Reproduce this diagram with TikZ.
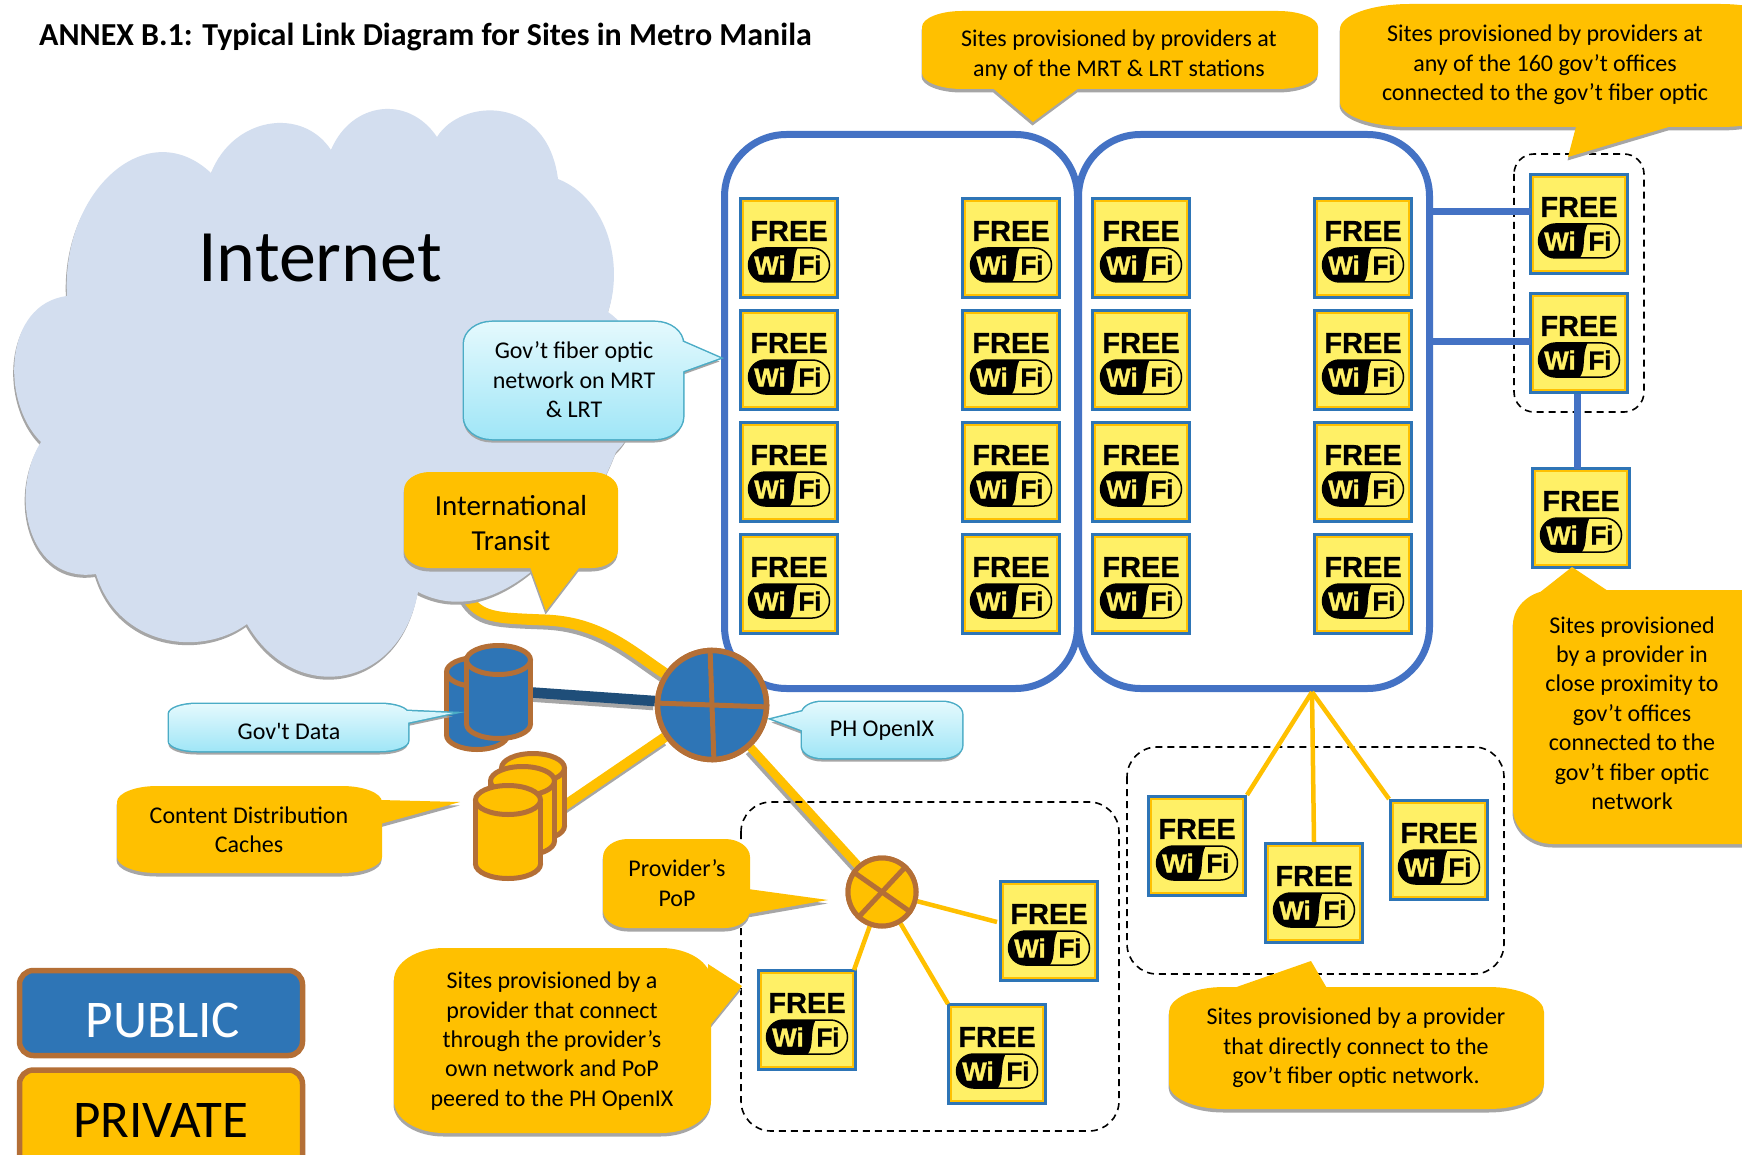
\documentclass[tikz,border=0pt]{standalone}
\usepackage{fontspec}
\setmainfont{Carlito}
\newfontfamily\plainc{Carlito}
\newfontfamily\wifont{Liberation Sans Bold}[FakeBold=0.6]
\newfontfamily\wibold{Liberation Sans Bold}[FakeBold=1.4]
\definecolor{ybg}{HTML}{FFC000}
\definecolor{bbg}{HTML}{2E75B6}
\definecolor{brn}{HTML}{B46F36}
\definecolor{linkb}{HTML}{4472C4}
\definecolor{shcol}{HTML}{A6A6A6}
\definecolor{cloudc}{HTML}{D3DEEF}
\definecolor{wy}{HTML}{FFF066}
\definecolor{dkb}{HTML}{1F4E79}
\definecolor{teal1}{HTML}{4BACC6}
\definecolor{blt}{HTML}{E4F9FD}
\definecolor{blb}{HTML}{A0E6F7}
\tikzset{
  wifibox/.style={draw=bbg,line width=4pt,fill=wy,minimum width=96pt,minimum height=98pt,inner sep=0pt},
  wifiinner/.style={draw=ybg,line width=2pt},
  freetxt/.style={font=\wifont\fontsize{29}{29}\selectfont,inner sep=0pt,text=black},
  pilltxt/.style={font=\wibold\fontsize{26}{26}\selectfont,inner sep=0pt},
  lbl/.style={align=center,inner sep=0pt,text=black,font=\fontsize{24}{29.4}\selectfont},
  biglbl/.style={font=\fontsize{29}{35.5}\selectfont},
  yellowc/.style={fill=ybg},
  bluec/.style={top color=blt,bottom color=blb},
  blueedge/.style={draw=teal1,line width=3pt},
  noedge/.style={},
  shadowc/.style={fill=shcol},
  bluebox/.style={draw=linkb,line width=7pt,rounded corners=62pt},
  dashbox/.style={draw=black,line width=1.6pt,dash pattern=on 7pt off 5pt},
  linkline/.style={draw=linkb,line width=7pt},
  thin yellow/.style={draw=ybg,line width=4.5pt},
  hubnode/.style={circle,draw=brn,fill=bbg,line width=5.5pt,minimum size=109pt,inner sep=0pt},
  popnode/.style={circle,draw=brn,fill=ybg,line width=5pt,minimum size=68pt,inner sep=0pt},
  cross/.style={draw=brn,line width=5pt},
  cylline/.style={draw=brn,line width=5pt},
  legendbox/.style={draw=brn,line width=5.5pt,rounded corners=14pt},
}
\newcommand{\wifi}[2]{%
  \node[wifibox] (#1) at (#2) {};
  \begin{scope}[shift={(#2)}]
    \draw[wifiinner] (-46,-47) rectangle (46,47);
    \node[freetxt] (#1-free) at (0,-17) {FREE};
    \begin{scope}
      \clip[rounded corners=17pt] (-40.5,0) rectangle (40.5,34);
      \fill[black] (-42,-1) -- (9,-1) .. controls (2,12) and (8,26) .. (0,35) -- (-42,35) -- cycle;
    \end{scope}
    \draw[black,line width=1.5pt,rounded corners=17pt] (-40.5,0) rectangle (40.5,34);
    \node[pilltxt,text=wy] (#1-wi) at (-19,17) {Wi};
    \node[pilltxt,text=black] (#1-fi) at (21,17) {Fi};
  \end{scope}
}
% rounded box with elliptical corners: x1 y1 x2 y2 rx ry; result in \rrpath (clockwise on screen)
\newcommand{\setrr}[6]{%
  \pgfmathsetmacro\rA{#1+#5}\pgfmathsetmacro\rB{#3-#5}%
  \pgfmathsetmacro\rC{#2+#6}\pgfmathsetmacro\rD{#4-#6}%
  \pgfmathsetmacro\rE{#1+0.45*#5}\pgfmathsetmacro\rF{#3-0.45*#5}%
  \pgfmathsetmacro\rG{#2+0.45*#6}\pgfmathsetmacro\rH{#4-0.45*#6}%
  \edef\rrpath{(\rA,#2) -- (\rB,#2) .. controls (\rF,#2) and (#3,\rG) .. (#3,\rC) -- (#3,\rD) .. controls (#3,\rH) and (\rF,#4) .. (\rB,#4) -- (\rA,#4) .. controls (\rE,#4) and (#1,\rH) .. (#1,\rD) -- (#1,\rC) .. controls (#1,\rG) and (\rE,#2) .. (\rA,#2) -- cycle}%
}
\newcommand{\callout}[7]{%
  \path[shadowc,shift={(-0.5,3.5)}] \rrpath #4;
  \path[#2] \rrpath #4;
  \path[#1] \rrpath #4;
  \node[lbl,#6] (#3) at (#5) {#7};
}
\newcommand{\cyl}[6]{%
  \pgfmathsetmacro\cyA{#2+2.5}\pgfmathsetmacro\cyB{#3-2.5}
  \pgfmathsetmacro\cyT{#4+17}\pgfmathsetmacro\cyD{#5-17}
  \pgfmathsetmacro\cyC{(#2+#3)/2}\pgfmathsetmacro\cyR{(#3-#2)/2-2.5}
  \pgfmathsetmacro\cyM{(#4+#5)/2}
  \draw[cylline,fill=#6] (\cyC,\cyD) ellipse [x radius=\cyR,y radius=14.5];
  \fill[#6] (\cyA,\cyT) rectangle (\cyB,\cyD);
  \draw[cylline] (\cyA,\cyT) -- (\cyA,\cyD) (\cyB,\cyT) -- (\cyB,\cyD);
  \draw[cylline,fill=#6] (\cyC,\cyT) ellipse [x radius=\cyR,y radius=14.5];
  \coordinate (#1) at (\cyC,\cyM);
}
\begin{document}
\begin{tikzpicture}[x=1pt,y=-1pt]
\useasboundingbox (0,0) rectangle (1742,1155);
\fill[white] (0,0) rectangle (1742,1155);

\node[anchor=west,inner sep=0pt,font=\bfseries\fontsize{32}{38}\selectfont] (title) at (39,37) {ANNEX B.1: Typical Link Diagram for Sites in Metro Manila};

% named end points
\coordinate (inet) at (466,596);
\node[hubnode] (hub) at (712,705) {};
\node[popnode] (pop) at (882,892) {};
\coordinate (lanjoin) at (1312,692);
\coordinate (lrtA) at (1430,212);
\coordinate (lrtB) at (1430,342);
\coordinate (r1w) at (1531,212);
\coordinate (r2w) at (1531,342);
\coordinate (r2s) at (1577,394);
\coordinate (r3n) at (1577,469);
\coordinate (p1w) at (997,922);
\coordinate (p2n) at (854,970);
\coordinate (p3n) at (948,1004);
\coordinate (govend) at (525,692);
\coordinate (cdnend) at (555,812);

% thick links with their shadows
\begin{scope}[transform canvas={shift={(-1.5pt,-4pt)}}]
  \draw[draw=shcol,line width=11pt] (inet) .. controls (480,618) and (495,618) .. (545,620) .. controls (600,622) and (630,650) .. (hub);
  \draw[draw=shcol,line width=10.5pt] (govend) -- (hub);
  \draw[draw=shcol,line width=10pt] (cdnend) -- (hub);
  \draw[draw=shcol,line width=8.5pt] (hub) -- (pop);
\end{scope}
\draw[draw=ybg,line width=11pt] (inet) .. controls (480,618) and (495,618) .. (545,620) .. controls (600,622) and (630,650) .. (hub);
\draw[draw=dkb,line width=10.5pt] (govend) -- (hub);
\draw[draw=ybg,line width=10pt] (cdnend) -- (hub);
\draw[draw=ybg,line width=8.5pt] (hub) -- (pop);

% cloud
\def\cloudpath{(67,296)
 .. controls (61,191) and (147,113) .. (211,173)
 .. controls (233,117) and (302,106) .. (331,150)
 .. controls (351,102) and (408,94) .. (437,137)
 .. controls (461,98) and (547,94) .. (558,179)
 .. controls (608,199) and (624,265) .. (608,312)
 .. controls (653,343) and (649,421) .. (616,452)
 .. controls (588,526) and (502,635) .. (418,592)
 .. controls (400,690) and (294,706) .. (247,624)
 .. controls (200,658) and (118,646) .. (96,574)
 .. controls (29,584) and (8,495) .. (41,442)
 .. controls (0,401) and (4,304) .. (67,296) -- cycle}
\fill[shcol,shift={(-1,3)}] \cloudpath;
\fill[cloudc] \cloudpath;
\node[inner sep=0pt,font=\fontsize{74}{74}\selectfont] (internet) at (320,258) {Internet};

% dashed groups
\draw[dashbox,rounded corners=20pt] (1514,154) rectangle (1644,412);
\draw[dashbox,rounded corners=30pt] (1127,747) rectangle (1504,974);
\draw[dashbox,rounded corners=30pt] (741,802) rectangle (1119,1131);

% blue network boxes
\node[bluebox,minimum width=353pt,minimum height=554pt,inner sep=0pt] (mrt) at (901,411.5) {};
\node[bluebox,minimum width=351pt,minimum height=554pt,inner sep=0pt] (lrt) at (1254,411.5) {};

% wifi grid
\wifi{a1}{789,248}\wifi{a2}{789,360}\wifi{a3}{789,472}\wifi{a4}{789,584}
\wifi{b1}{1011,248}\wifi{b2}{1011,360}\wifi{b3}{1011,472}\wifi{b4}{1011,584}
\wifi{c1}{1141,248}\wifi{c2}{1141,360}\wifi{c3}{1141,472}\wifi{c4}{1141,584}
\wifi{d1}{1363,248}\wifi{d2}{1363,360}\wifi{d3}{1363,472}\wifi{d4}{1363,584}
% right group
\wifi{r1}{1579,224}\wifi{r2}{1579,343}\wifi{r3}{1581,518}
\draw[linkline] (lrtA) -- (r1w);
\draw[linkline] (lrtB) -- (r2w);
\draw[linkline] (r2s) -- (r3n);
% direct group
\wifi{g1}{1197,846}\wifi{g2}{1314,893}\wifi{g3}{1439,850}
\draw[thin yellow] (lanjoin) -- (g1.north east);
\draw[thin yellow] (lanjoin) -- (g2.north);
\draw[thin yellow] (lanjoin) -- (g3.north west);
% PoP group
\wifi{p1}{1049,931}\wifi{p2}{807,1020}\wifi{p3}{997,1054}
\draw[thin yellow] (pop) -- (p1w);
\draw[thin yellow] (pop) -- (p2n);
\draw[thin yellow] (pop) -- (p3n);

% cylinders
\cyl{govb}{444}{510}{655}{752}{bbg}
\cyl{govf}{464}{533}{643}{741}{bbg}
\cyl{cdn3}{499}{567}{751}{843}{ybg}
\cyl{cdn2}{488}{557}{764}{858}{ybg}
\cyl{cdn1}{473}{543}{783}{881}{ybg}

% hub and PoP on top
\node[hubnode] (hubtop) at (hub) {};
\draw[cross] (hubtop.92) -- (hubtop.272);
\draw[cross] (hubtop.178) -- (hubtop.358);
\node[popnode] (poptop) at (pop) {};
\draw[cross] (poptop.47) -- (poptop.227);
\draw[cross] (poptop.145) -- (poptop.325);

% callouts
\setrr{922}{11}{1318}{89}{40}{16}
\callout{yellowc}{noedge}{c1}{(1083,85) -- (1033,122) -- (989,85) -- cycle}{1119,55}{}{Sites provisioned by providers at\\any of the MRT \& LRT stations}
\setrr{1340}{4}{1790}{127}{70}{25}
\callout{yellowc}{noedge}{c2}{(1682,123) -- (1568,157) -- (1577,123) -- cycle}{1545,65}{}{Sites provisioned by providers at\\any of the 160 gov't offices\\connected to the gov't fiber optic}
\setrr{464}{322}{683}{439}{28}{22}
\callout{bluec}{blueedge}{c3}{(681,341) -- (720,358) -- (681,372) -- cycle}{574,380}{}{Gov't fiber optic\\network on MRT\\\& LRT}
\setrr{404}{472}{618}{568}{26}{18}
\callout{yellowc}{noedge}{c4}{(582,564) -- (546,611) -- (529,564) -- cycle}{511,523}{biglbl}{International\\Transit}
\setrr{169}{704}{408}{751}{28}{10}
\callout{bluec}{blueedge}{c5}{(406,711) -- (453,713) -- (406,723) -- cycle}{289,731}{}{\plainc Gov't Data}
\setrr{802}{702}{962}{758}{20}{12}
\callout{bluec}{blueedge}{c6}{(804,731) -- (772,719) -- (804,711) -- cycle}{882,731}{}{PH OpenIX}
\setrr{117}{786}{382}{873}{40}{16}
\callout{yellowc}{noedge}{c7}{(380,800) -- (460,802) -- (380,824) -- cycle}{249,830}{}{Content Distribution\\Caches}
\setrr{603}{839}{750}{928}{25}{18}
\callout{yellowc}{noedge}{c8}{(748,889) -- (828,900) -- (748,914) -- cycle}{677,883}{}{Provider's\\PoP}
\setrr{394}{948}{711}{1133}{50}{32}
\callout{yellowc}{noedge}{c9}{(708,964) -- (742,986) -- (708,1028) -- cycle}{552,1041}{}{Sites provisioned by a\\provider that connect\\through the provider's\\own network and PoP\\peered to the PH OpenIX}
\setrr{1169}{987}{1544}{1109}{55}{25}
\callout{yellowc}{noedge}{c10}{(1228,990) -- (1311,961) -- (1328,990) -- cycle}{1356,1048}{}{Sites provisioned by a provider\\that directly connect to the\\gov't fiber optic network.}
\setrr{1513}{590}{1790}{844}{40}{35}
\callout{yellowc}{noedge}{c11}{(1539,593) -- (1572,567) -- (1611,593) -- cycle}{1632,713}{}{Sites provisioned\\by a provider in\\close proximity to\\gov't offices\\connected to the\\gov't fiber optic\\network}

% legend
\node[legendbox,fill=bbg,minimum width=283pt,minimum height=85pt,inner sep=0pt] (public) at (161,1013) {};
\node[inner sep=0pt,text=white,font=\fontsize{53}{53}\selectfont] (publictxt) at (163,1020) {PUBLIC};
\draw[legendbox,fill=ybg] (19.5,1070) rectangle (302.5,1175);
\node[inner sep=0pt,font=\fontsize{53}{53}\selectfont] (private) at (161,1120) {PRIVATE};
\end{tikzpicture}
\end{document}
